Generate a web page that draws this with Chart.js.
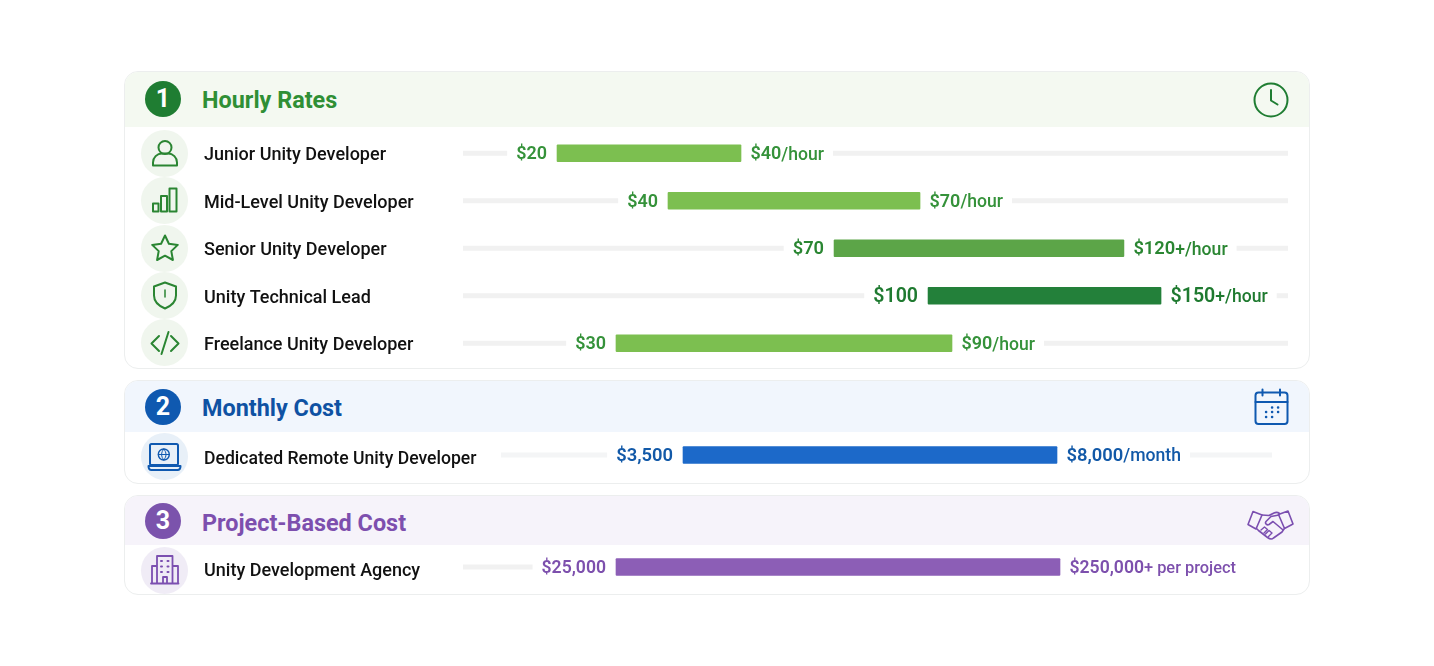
<!DOCTYPE html>
<html>
<head>
<meta charset="utf-8">
<title>Unity developer costs</title>
<script src="https://cdn.jsdelivr.net/npm/chart.js@4/dist/chart.umd.min.js"></script>
<style>
  html, body { margin: 0; background: #fff; font-family: Roboto, sans-serif; }
  #page { position: relative; width: 1434px; height: 666px; overflow: hidden; }
  .panel { position: absolute; left: 124px; width: 1186px; box-sizing: border-box; background: #fff;
           border: 1px solid #eceeee; border-radius: 14px; overflow: hidden; }
  .head { position: absolute; left: 0; top: 0; right: 0; }
  .badge { position: absolute; left: 145px; width: 36px; height: 36px; border-radius: 50%; color: #fff;
           font: 700 25px/36px Roboto, sans-serif; text-align: center; }
  .title { position: absolute; left: 202px; font: 700 23.4px/30px Roboto, sans-serif; }
  .dot { position: absolute; left: 141px; width: 47px; height: 47px; border-radius: 50%; }
  svg.icons { position: absolute; left: 0; top: 0; fill: none; stroke-width: 2; stroke-linecap: round; stroke-linejoin: round; }
  canvas { position: absolute; left: 204px; }
</style>
</head>
<body>
<div id="page">
  <div class="panel" style="top:71px;height:298px"><div class="head" style="height:55px;background:#f4f9f1"></div></div>
  <div class="panel" style="top:380px;height:104px"><div class="head" style="height:51px;background:#f1f6fd"></div></div>
  <div class="panel" style="top:495px;height:100px"><div class="head" style="height:49px;background:#f6f3fa"></div></div>

  <div class="badge" style="top:81px;background:#1f7d32">1</div>
  <div class="title" style="top:85px;color:#2f8f35">Hourly Rates</div>
  <div class="badge" style="top:389px;background:#0f59b0">2</div>
  <div class="title" style="top:393px;color:#0f52a3">Monthly Cost</div>
  <div class="badge" style="top:503px;background:#7b53ac">3</div>
  <div class="title" style="top:508px;color:#7d4fae">Project-Based Cost</div>

  <div class="dot" style="top:130px;background:#f0f6ee"></div>
  <div class="dot" style="top:177px;background:#f0f6ee"></div>
  <div class="dot" style="top:225px;background:#f0f6ee"></div>
  <div class="dot" style="top:272px;background:#f0f6ee"></div>
  <div class="dot" style="top:319px;background:#f0f6ee"></div>
  <div class="dot" style="top:433px;background:#e8f0f8"></div>
  <div class="dot" style="top:547px;background:#f0ecf6"></div>

  <!-- row and header icons -->
  <svg class="icons" width="1434" height="666">
    <g stroke="#2a8532">
      <circle cx="165" cy="147.5" r="6.5"/>
      <path d="M153 165.5v-3a9 9 0 0 1 9-9h6a9 9 0 0 1 9 9v3z"/>
      <path d="M153 203.5h5.5v8h-5.5zM161 196h6v15.5h-6zM169.5 188.500h7v23h-7z"/>
      <path d="M165 235.500l3.900 8.200 8.900 1.200-6.500 6.200 1.600 8.900-7.900-4.300-7.900 4.300 1.600-8.900-6.500-6.200 8.900-1.200z"/>
      <path d="M165 282.500l11 4v9c0 6-5 10.500-11 13-6-2.500-11-7-11-13v-9z"/>
      <path d="M165 290v7" stroke-width="1.500"/>
      <path d="M159 336l-7.500 7.500 7.500 7.500M171 336l7.500 7.500-7.500 7.500M168.500 332l-7 22"/>
    </g>
    <g stroke="#1f7d32">
      <circle cx="1271" cy="100" r="16.500"/>
      <path d="M1271 90v10.500l6.500 4"/>
    </g>
    <g stroke="#0f59b0">
      <rect x="150" y="444" width="28" height="21" rx="1.500"/>
      <path d="M148.500 466h32c0 2.500-1 4-3 4h-26c-2 0-3-1.500-3-4z"/>
      <circle cx="163.800" cy="454.500" r="5.500" stroke-width="1.400"/>
      <path d="M158.300 454.500h11M163.800 449c-3 3.500-3 7.500 0 11M163.800 449c3 3.500 3 7.500 0 11" stroke-width="1"/>
      <rect x="1255.500" y="392.500" width="32" height="31.500" rx="3"/>
      <path d="M1255.500 402h32M1262.500 389.500v6M1280 389.500v6"/>
      <path d="M1272 407.500h.2M1278 407.500h.2M1266 412h.2M1272 412h.2M1278 412h.2M1266 417h.2M1272 417h.2" stroke-width="2.400"/>
    </g>
    <g stroke="#7b4fb0" stroke-width="1.800">
      <path d="M151 583.500h27.500M152 583v-17h5M172.500 566h5.500v17M157 583v-27h15.500v27M163 583v-6h4v6"/>
      <path d="M161 561h1M167.500 561h1M161 566.500h1M167.500 566.500h1M161 572h1M167.500 572h1" stroke-width="2"/>
      <path d="M1253 511.500l9 3.500-6 14-8-4.500zM1288 511l-9.500 3.500 6 14 8.500-4.500z" stroke-width="1.600"/>
      <path d="M1262 515l7 .5 5-2.500c2-1 3.500-1 5.500 .5M1279 515l-8 1.500-5 5c-1.500 2 1 4 3 3l4-3 9.500 8M1256.500 528.500l2 2 9 7c2 1.500 4.500 2 6 .5l8.500-6 2-3" stroke-width="1.600"/>
      <path d="M1261 530l3.500-3 3 2.500-3.500 3.500M1265.500 534l3.500-3.500 3 2.500-3.500 3.500" stroke-width="1.400"/>
    </g>
  </svg>

  <canvas id="hourly_graph" width="1084" height="238" style="top:129px"></canvas>
  <canvas id="monthly_graph" width="1084" height="48" style="top:431px"></canvas>
  <canvas id="project_graph" width="1084" height="48" style="top:543px"></canvas>
</div>

<script>
// hourly rates
const hourlyRoles = ['Junior Unity Developer', 'Mid-Level Unity Developer', 'Senior Unity Developer', 'Unity Technical Lead', 'Freelance Unity Developer'];
const hourlyLow = [20, 40, 70, 100, 30];
const hourlyHigh = [40, 70, 120, 150, 90];
const hourlyUnits = ['/hour', '/hour', '+/hour', '+/hour', '/hour'];
// every row runs on its own dollar range
const hourlyAxisMin = [9.78, 15.6, 6, 0.2, 2.68];
const hourlyAxisMax = [99.46, 113.8, 148.3, 177.25, 150];

// monthly cost
const monthlyRoles = ['Dedicated Remote Unity Developer'];
const monthlyLow = [3500];
const monthlyHigh = [8000];
const monthlyUnits = ['/month'];
const monthlyAxisMin = [1310];
const monthlyAxisMax = [10587];

// project based cost
const projectRoles = ['Unity Development Agency'];
const projectLow = [25000];
const projectHigh = [250000];
const projectUnits = ['+ per project'];
const projectAxisMin = [-52534];
const projectAxisMax = [341217];

function money(v) {
    return '$' + v.toLocaleString('en-US');
}

// row names, grey track pieces and the low/high labels around each bar
const rowDecor = {
    id: 'rowDecor',
    afterDatasetsDraw: function (chart, args, opts) {
        const ctx = chart.ctx;
        const area = chart.chartArea;
        chart.data.datasets.forEach(function (ds, i) {
            const bar = chart.getDatasetMeta(i).data[i];
            const y = bar.y;
            const style = opts.rows[i];
            const lowText = money(opts.low[i]);
            const highText = money(opts.high[i]);
            const unitText = opts.units[i];
            ctx.save();
            ctx.textBaseline = 'middle';

            ctx.fillStyle = '#111';
            ctx.font = '500 ' + opts.nameSize + 'px Roboto';
            ctx.textAlign = 'left';
            ctx.fillText(chart.data.labels[i], 0, y + opts.nameDrop);

            const valueFont = style.weight + ' ' + style.size + 'px Roboto';
            const unitFont = '500 ' + opts.unitSize + 'px Roboto';
            ctx.fillStyle = style.text;
            ctx.font = valueFont;
            const lowRight = bar.base - 10;
            ctx.textAlign = 'right';
            ctx.fillText(lowText, lowRight, y + 1.5);
            const lowWidth = ctx.measureText(lowText).width;

            ctx.textAlign = 'left';
            const highLeft = bar.x + 9.5;
            ctx.fillText(highText, highLeft, y + 1.5);
            const highWidth = ctx.measureText(highText).width;
            ctx.font = unitFont;
            ctx.fillText(unitText, highLeft + highWidth, y + 2);
            const unitWidth = ctx.measureText(unitText).width;

            // track stops just short of the labels on both sides
            ctx.fillStyle = opts.track;
            const leftEnd = lowRight - lowWidth - 9;
            const rightStart = highLeft + highWidth + unitWidth + 9;
            ctx.fillRect(area.left, y - 2.5, leftEnd - area.left, 5);
            if (rightStart < area.right) {
                ctx.fillRect(rightStart, y - 2.5, area.right - rightStart, 5);
            }
            ctx.restore();
        });
    }
};

function drawRanges(canvasId, roles, low, high, units, axisMin, axisMax, rows, layoutOpts) {
    const datasets = roles.map(function (role, i) {
        return {
            label: role,
            xAxisID: 'x' + i,
            data: roles.map(function (r, j) {
                return j === i ? [low[i], high[i]] : null;
            }),
            backgroundColor: rows[i].bar,
            barThickness: 17,
            grouped: false,
            borderRadius: 1,
            borderSkipped: false
        };
    });
    const scales = {
        y: {
            grid: { display: false },
            border: { display: false },
            ticks: { display: false },
            afterFit: function (scale) {
                scale.width = layoutOpts.nameWidth;
            }
        }
    };
    roles.forEach(function (role, i) {
        scales['x' + i] = { type: 'linear', display: false, min: axisMin[i], max: axisMax[i] };
    });
    new Chart(document.getElementById(canvasId), {
        type: 'bar',
        data: { labels: roles, datasets: datasets },
        options: {
            indexAxis: 'y',
            responsive: false,
            animation: false,
            layout: { padding: { right: layoutOpts.right, top: layoutOpts.top } },
            scales: scales,
            plugins: {
                legend: { display: false },
                tooltip: { enabled: false },
                rowDecor: {
                    low: low,
                    high: high,
                    units: units,
                    rows: rows,
                    nameDrop: layoutOpts.nameDrop,
                    nameSize: layoutOpts.nameSize,
                    unitSize: layoutOpts.unitSize,
                    track: layoutOpts.track
                }
            }
        },
        plugins: [rowDecor]
    });
}

const lightGreen = { bar: '#7cbf50', text: '#35923a', size: 18, weight: 600 };
drawRanges('hourly_graph', hourlyRoles, hourlyLow, hourlyHigh, hourlyUnits, hourlyAxisMin, hourlyAxisMax, [
    lightGreen,
    lightGreen,
    { bar: '#5ca548', text: '#2a8632', size: 18.3, weight: 600 },
    { bar: '#23803a', text: '#1f7a30', size: 19.6, weight: 600 },
    lightGreen
], { nameWidth: 259, right: 0, top: 0.5, nameDrop: 2.5, nameSize: 18, unitSize: 17.6, track: '#f1f1f1' });

drawRanges('monthly_graph', monthlyRoles, monthlyLow, monthlyHigh, monthlyUnits, monthlyAxisMin, monthlyAxisMax, [
    { bar: '#1c69c9', text: '#1259a8', size: 18.4, weight: 600 }
], { nameWidth: 297, right: 16, top: 0, nameDrop: 4.5, nameSize: 17.6, unitSize: 17.6, track: '#f4f5f6' });

drawRanges('project_graph', projectRoles, projectLow, projectHigh, projectUnits, projectAxisMin, projectAxisMax, [
    { bar: '#8c5eb6', text: '#7d50ad', size: 17.6, weight: 600 }
], { nameWidth: 259, right: 48, top: 0, nameDrop: 4.5, nameSize: 18, unitSize: 16.4, track: '#f1f1f1' });
</script>
</body>
</html>
